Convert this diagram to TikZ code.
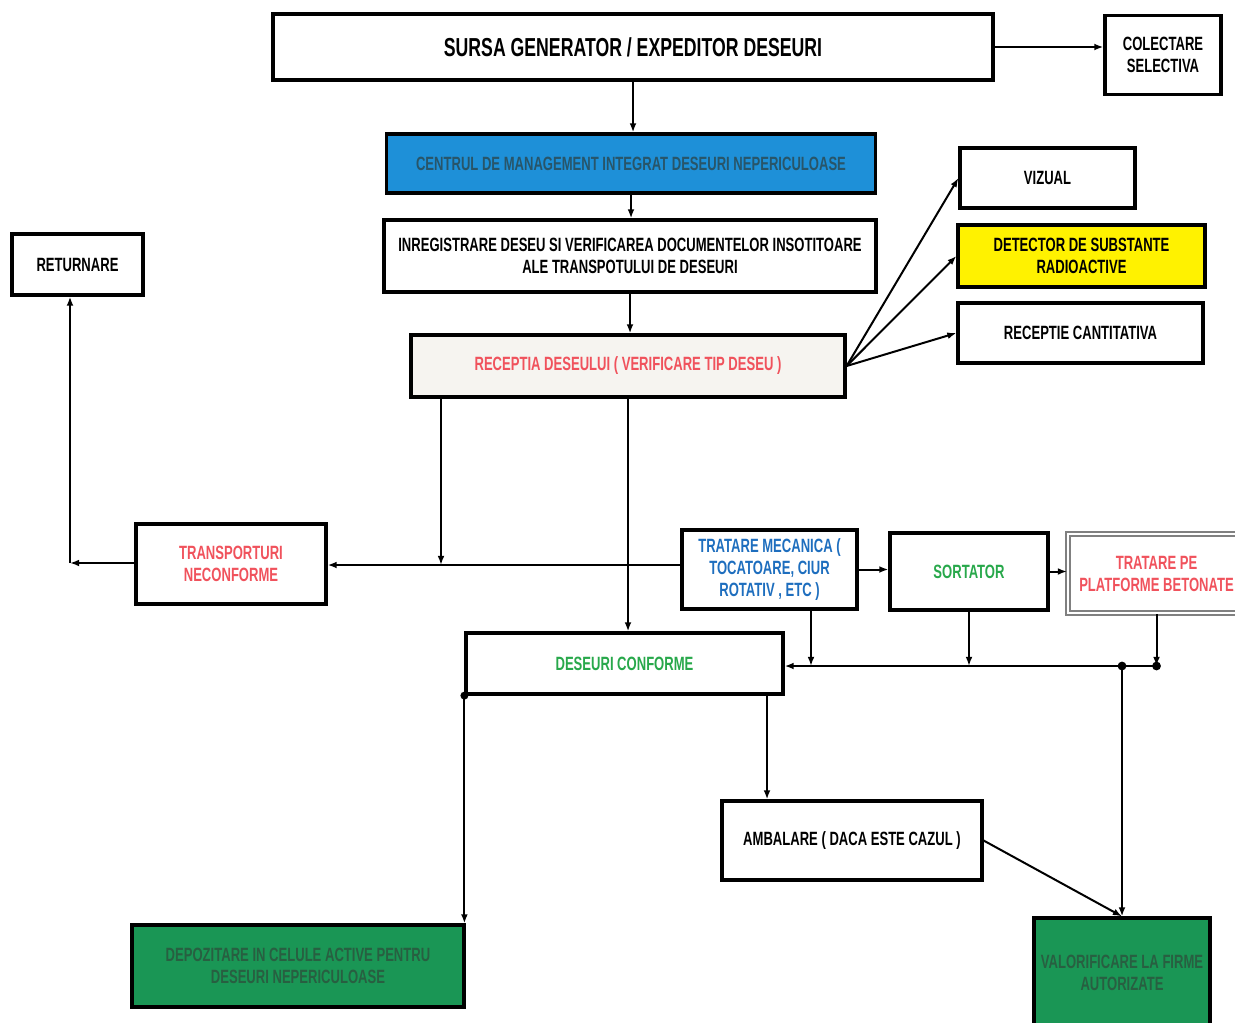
\documentclass[tikz,border=0pt]{standalone}
\usepackage{fontspec}
\setmainfont{Liberation Sans}[FakeStretch=0.7,BoldFont={Liberation Sans Bold},BoldFeatures={FakeStretch=0.68}]
\usepackage{tikz}
\usetikzlibrary{arrows.meta,positioning}
\usepackage{xcolor}
\definecolor{centrublue}{RGB}{30,144,216}
\definecolor{centrutext}{RGB}{40,85,105}
\definecolor{detyellow}{RGB}{255,242,0}
\definecolor{redtext}{RGB}{240,82,92}
\definecolor{bluetext}{RGB}{30,110,190}
\definecolor{greentext}{RGB}{40,168,75}
\definecolor{depgreen}{RGB}{26,150,85}
\definecolor{depgreentext}{RGB}{40,95,65}
\definecolor{receptfill}{RGB}{246,244,240}

\begin{document}
\begin{tikzpicture}[x=0.5pt,y=-0.5pt]
	\useasboundingbox (0,0) rectangle (1235,1022);
	\begin{scope}[every node/.style={rectangle,draw,line width=1.6pt,align=center,inner sep=2pt,font=\bfseries\fontsize{9.6}{11}\selectfont}]
		\node[minimum width=360pt,minimum height=33pt,font=\bfseries\fontsize{13}{15}\selectfont] (src) at (633,47) {SURSA GENERATOR / EXPEDITOR DESEURI};
		\node[minimum width=58pt,minimum height=39.5pt] (colect) at (1163,55) {COLECTARE\\ SELECTIVA};
		\node[fill=centrublue,text=centrutext,minimum width=244.5pt,minimum height=29.5pt] (centru) at (631,163.5) {CENTRUL DE MANAGEMENT INTEGRAT DESEURI NEPERICULOASE};
		\node[minimum width=246pt,minimum height=36pt] (inreg) at (630,256) {INREGISTRARE DESEU SI VERIFICAREA DOCUMENTELOR INSOTITOARE\\ ALE TRANSPOTULUI DE DESEURI};
		\node[minimum width=65.5pt,minimum height=30.5pt] (returnare) at (77.5,264.5) {RETURNARE};
		\node[minimum width=87.5pt,minimum height=30pt] (vizual) at (1047.5,178) {VIZUAL};
		\node[fill=detyellow,minimum width=123.5pt,minimum height=31pt] (detector) at (1081.5,256) {DETECTOR DE SUBSTANTE\\ RADIOACTIVE};
		\node[minimum width=122.5pt,minimum height=30pt] (cantit) at (1080.5,333) {RECEPTIE CANTITATIVA};
		\node[fill=receptfill,text=redtext,minimum width=217pt,minimum height=31pt] (receptia) at (628,366) {RECEPTIA DESEULUI ( VERIFICARE TIP DESEU )};
		\node[text=redtext,minimum width=95pt,minimum height=40pt] (transp) at (231,564) {TRANSPORTURI\\ NECONFORME};
		\node[text=bluetext,minimum width=87.5pt,minimum height=39.5pt] (tratmec) at (769.5,569.5) {TRATARE MECANICA (\\ TOCATOARE, CIUR\\ ROTATIV , ETC )};
		\node[text=greentext,minimum width=79pt,minimum height=38.5pt] (sortator) at (969,571.5) {SORTATOR};
		\node[draw=gray,double=white,double distance=0.8pt,line width=1pt,text=redtext,minimum width=88.5pt,minimum height=39.5pt] (tratplat) at (1156.5,573.5) {TRATARE PE\\ PLATFORME BETONATE};
		\node[text=greentext,minimum width=158.5pt,minimum height=30.5pt] (conforme) at (624.5,663.5) {DESEURI CONFORME};
		\node[minimum width=130pt,minimum height=39.5pt] (ambalare) at (852,840.5) {AMBALARE ( DACA ESTE CAZUL )};
		\node[fill=depgreen,text=depgreentext,minimum width=166pt,minimum height=41pt] (depoz) at (298,966) {DEPOZITARE IN CELULE ACTIVE PENTRU\\ DESEURI NEPERICULOASE};
		\node[fill=depgreen,text=depgreentext,minimum width=88pt,minimum height=55pt] (valorif) at (1122,973) {VALORIFICARE LA FIRME\\ AUTORIZATE};
	\end{scope}

	\coordinate (ret) at (70,563);
	\coordinate (busL) at (441,565);
	\coordinate (mecdown) at (811,666);
	\coordinate (busR) at (1156.5,666);
	\coordinate (busC) at (1122,666);
	\coordinate (ambdown) at (767,750);

	\begin{scope}[arr/.style={-{Latex[length=1.6mm]},line width=1pt}]
	\draw[arr] (src.south) -- (src.south |- centru.north);
	\draw[arr] (src.east) -- (src.east -| colect.west);
	\draw[arr] (centru.south) -- (centru.south |- inreg.north);
	\draw[arr] (inreg.south) -- (inreg.south |- receptia.north);
	\draw[arr] (receptia.east) -- (vizual.west);
	\draw[arr] (receptia.east) -- (detector.west);
	\draw[arr] (receptia.east) -- (cantit.west);
	\draw[arr] (receptia.south -| busL) -- (busL);
	\draw[arr] (receptia.south) -- (receptia.south |- conforme.north);
	\draw[arr] (tratmec.west |- busL) -- (transp.east |- busL);
	\draw[arr] (transp.west |- ret) -- (ret);
	\draw[arr] (ret) -- (ret |- returnare.south);
	\draw[arr] (tratmec.east) -- (sortator.west |- tratmec.east);
	\draw[arr] (sortator.east) -- (tratplat.west |- sortator.east);
	\draw[arr] (mecdown |- tratmec.south) -- (mecdown);
	\draw[arr] (sortator.south) -- (sortator.south |- busR);
	\draw[arr] (tratplat.south) -- (busR);
	\draw[arr] (busR) -- (busR -| conforme.east);
	\draw[arr] (busC) -- (valorif.north);
	\draw[arr] (conforme.south west) -- (conforme.south west |- depoz.north);
	\draw[arr] (ambdown |- conforme.south) -- (ambdown |- ambalare.north);
	\draw[arr] (ambalare.east) -- (valorif.north);
	\fill (busC) circle (2.2pt) (busR) circle (2.2pt) (conforme.south west) circle (2pt);
	\end{scope}
\end{tikzpicture}
\end{document}
